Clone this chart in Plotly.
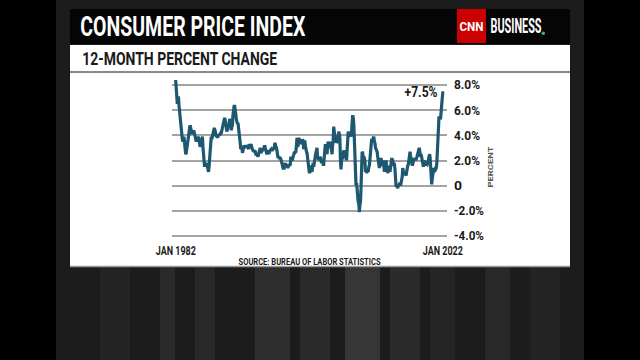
import json
import pandas as pd
import plotly.graph_objects as go

# ---- data: CPI-U, 12-month percent change, monthly Jan 1982 - Jan 2022 ----
cpi_yoy = [
    8.4, 7.6, 6.8, 6.5, 6.7, 7.1, 6.4, 5.9, 5.0, 5.1, 4.6, 3.8,   # 1982
    3.7, 3.5, 3.6, 3.9, 3.5, 2.6, 2.5, 2.6, 2.9, 2.9, 3.3, 3.8,   # 1983
    4.2, 4.6, 4.8, 4.6, 4.2, 4.2, 4.2, 4.3, 4.3, 4.3, 4.1, 3.9,   # 1984
    3.5, 3.5, 3.7, 3.7, 3.8, 3.8, 3.6, 3.3, 3.1, 3.2, 3.5, 3.8,   # 1985
    3.9, 3.1, 2.2, 1.6, 1.5, 1.8, 1.6, 1.6, 1.8, 1.5, 1.3, 1.1,   # 1986
    1.5, 2.1, 3.0, 3.8, 3.9, 3.7, 3.9, 4.3, 4.4, 4.5, 4.5, 4.4,   # 1987
    4.0, 3.9, 3.9, 3.9, 3.9, 4.0, 4.1, 4.0, 4.2, 4.2, 4.2, 4.4,   # 1988
    4.7, 4.8, 5.0, 5.1, 5.4, 5.2, 5.0, 4.7, 4.3, 4.5, 4.7, 4.6,   # 1989
    5.2, 5.3, 5.2, 4.7, 4.4, 4.7, 4.8, 5.6, 6.2, 6.3, 6.3, 6.1,   # 1990
    5.7, 5.3, 4.9, 4.9, 5.0, 4.7, 4.4, 3.8, 3.4, 2.9, 3.0, 3.1,   # 1991
    2.6, 2.8, 3.2, 3.2, 3.0, 3.1, 3.2, 3.1, 3.0, 3.2, 3.0, 2.9,   # 1992
    3.3, 3.2, 3.1, 3.2, 3.2, 3.0, 2.8, 2.8, 2.7, 2.8, 2.7, 2.7,   # 1993
    2.5, 2.5, 2.5, 2.4, 2.3, 2.5, 2.8, 2.9, 3.0, 2.6, 2.7, 2.7,   # 1994
    2.8, 2.9, 2.9, 3.1, 3.2, 3.0, 2.8, 2.6, 2.5, 2.8, 2.6, 2.5,   # 1995
    2.7, 2.7, 2.8, 2.9, 2.9, 2.8, 3.0, 2.9, 3.0, 3.0, 3.3, 3.3,   # 1996
    3.0, 3.0, 2.8, 2.5, 2.2, 2.3, 2.2, 2.2, 2.2, 2.1, 1.8, 1.7,   # 1997
    1.6, 1.4, 1.4, 1.4, 1.7, 1.7, 1.7, 1.6, 1.5, 1.5, 1.5, 1.6,   # 1998
    1.7, 1.6, 1.7, 2.3, 2.1, 2.0, 2.1, 2.3, 2.6, 2.6, 2.6, 2.7,   # 1999
    2.7, 3.2, 3.8, 3.1, 3.2, 3.7, 3.7, 3.4, 3.5, 3.4, 3.4, 3.4,   # 2000
    3.7, 3.5, 2.9, 3.3, 3.6, 3.2, 2.7, 2.7, 2.6, 2.1, 1.9, 1.6,   # 2001
    1.1, 1.1, 1.5, 1.6, 1.2, 1.1, 1.5, 1.8, 1.5, 2.0, 2.2, 2.4,   # 2002
    2.6, 3.0, 3.0, 2.2, 2.1, 2.1, 2.1, 2.2, 2.3, 2.0, 1.8, 1.9,   # 2003
    1.9, 1.7, 1.7, 2.3, 3.1, 3.3, 3.0, 2.7, 2.5, 3.2, 3.5, 3.3,   # 2004
    3.0, 3.0, 3.1, 3.5, 2.8, 2.5, 3.2, 3.6, 4.7, 4.3, 3.5, 3.4,   # 2005
    4.0, 3.6, 3.4, 3.5, 4.2, 4.3, 4.1, 3.8, 2.1, 1.3, 2.0, 2.5,   # 2006
    2.1, 2.4, 2.8, 2.6, 2.7, 2.7, 2.4, 2.0, 2.8, 3.5, 4.3, 4.1,   # 2007
    4.3, 4.0, 4.0, 3.9, 4.2, 5.0, 5.6, 5.4, 4.9, 3.7, 1.1, 0.1,   # 2008
    0.0, 0.2, -0.4, -0.7, -1.3, -1.4, -2.1, -1.5, -1.3, -0.2, 1.8, 2.7,  # 2009
    2.6, 2.1, 2.3, 2.2, 2.0, 1.1, 1.2, 1.1, 1.1, 1.2, 1.1, 1.5,   # 2010
    1.6, 2.1, 2.7, 3.2, 3.6, 3.6, 3.6, 3.8, 3.9, 3.5, 3.4, 3.0,   # 2011
    2.9, 2.9, 2.7, 2.3, 1.7, 1.7, 1.4, 1.7, 2.0, 2.2, 1.8, 1.7,   # 2012
    1.6, 2.0, 1.5, 1.1, 1.4, 1.8, 2.0, 1.5, 1.2, 1.0, 1.2, 1.5,   # 2013
    1.6, 1.1, 1.5, 2.0, 2.1, 2.1, 2.0, 1.7, 1.7, 1.7, 1.3, 0.8,   # 2014
    -0.1, 0.0, -0.1, -0.2, 0.0, 0.1, 0.2, 0.2, 0.0, 0.2, 0.5, 0.7,  # 2015
    1.4, 1.0, 0.9, 1.1, 1.0, 1.0, 0.8, 1.1, 1.5, 1.6, 1.7, 2.1,   # 2016
    2.5, 2.7, 2.4, 2.2, 1.9, 1.6, 1.7, 1.9, 2.2, 2.0, 2.2, 2.1,   # 2017
    2.1, 2.2, 2.4, 2.5, 2.8, 2.9, 2.9, 2.7, 2.3, 2.5, 2.2, 1.9,   # 2018
    1.6, 1.5, 1.9, 2.0, 1.8, 1.6, 1.8, 1.7, 1.7, 1.8, 2.1, 2.3,   # 2019
    2.5, 2.3, 1.5, 0.3, 0.1, 0.6, 1.0, 1.3, 1.4, 1.2, 1.2, 1.4,   # 2020
    1.4, 1.7, 2.6, 4.2, 5.0, 5.4, 5.4, 5.3, 5.4, 6.2, 6.8, 7.0,   # 2021
    7.5,                                                          # Jan 2022
]
months = pd.date_range("1982-01-01", periods=len(cpi_yoy), freq="MS")

y_ticks = [-4, -2, 0, 2, 4, 6, 8]
y_tick_labels = ["-4.0%", "-2.0%", "0", "2.0%", "4.0%", "6.0%", "8.0%"]

title_text = "CONSUMER PRICE INDEX"
subtitle_text = "12-MONTH PERCENT CHANGE"
source_text = "SOURCE: BUREAU OF LABOR STATISTICS"
callout_text = "+7.5%"
start_label = "JAN 1982"
end_label = "JAN 2022"

# ---- layout helpers (pixel -> paper) ----
W, H = 640, 360
def px(x):
    return x / W
def py(y):
    return 1 - y / H

FONT = "Roboto, Liberation Sans, DejaVu Sans, sans-serif"
LINE_COLOR = "#1d5870"

fig = go.Figure()
fig.add_trace(go.Scatter(
    x=months, y=cpi_yoy, mode="lines",
    line=dict(color=LINE_COLOR, width=3.2),
    hoverinfo="skip", showlegend=False,
))

shapes = []
def rect(x0, y0, x1, y1, color, layer="below", opacity=1.0):
    shapes.append(dict(type="rect", xref="paper", yref="paper",
                       x0=px(x0), x1=px(x1), y0=py(y1), y1=py(y0),
                       fillcolor=color, line=dict(width=0), layer=layer,
                       opacity=opacity))

# background: black side bars with a dark grey centre
rect(56, 0, 584, 360, "#1c1c1c")
# decorative blurry stripes in the lower background
for x0, x1, c in [(100, 130, "#242424"), (160, 175, "#2a2a2a"), (195, 215, "#282828"),
                  (255, 290, "#2e2e2e"), (300, 330, "#2a2a2a"), (345, 380, "#363636"),
                  (390, 420, "#2b2b2b"), (430, 455, "#252525"), (485, 510, "#282828"),
                  (530, 560, "#232323")]:
    rect(x0, 267, x1, 360, c)
# title banner
rect(70, 9, 570, 44, "#050505")
# white panel
rect(70, 45, 570, 266, "#ffffff")
shapes.append(dict(type="line", xref="paper", yref="paper",
                   x0=px(70), x1=px(570), y0=py(72), y1=py(72),
                   line=dict(color="#8a8a8a", width=2), layer="below"))
shapes.append(dict(type="line", xref="paper", yref="paper",
                   x0=px(70), x1=px(570), y0=py(266.5), y1=py(266.5),
                   line=dict(color="#9a9a9a", width=1.5), layer="below"))
# CNN logo box
rect(457, 9, 486, 43, "#cc0000", layer="above")
shapes.append(dict(type="circle", xref="paper", yref="paper",
                   x0=px(541.5), x1=px(545), y0=py(35), y1=py(31.5),
                   fillcolor="#1fbf6a", line=dict(width=0), layer="above"))

annotations = []
# target rendered widths (px) for the condensed look of the broadcast font
text_widths = {}
def text(cx, cy, s, size, color, width, angle=0):
    text_widths[s] = width
    annotations.append(dict(
        xref="paper", yref="paper", x=px(cx), y=py(cy), text=s, showarrow=False,
        xanchor="center", yanchor="middle", textangle=angle,
        font=dict(family=FONT, size=size, color=color, weight="bold"),
    ))

text(192.5, 27, title_text, 27, "#ffffff", 225)
text(471.5, 27, "CNN", 12, "#ffffff", 24)
text(515.5, 26, "BUSINESS", 20, "#ffffff", 51)
text(179.5, 58.5, subtitle_text, 18, "#1a1a1a", 195)
text(420.5, 91.5, callout_text, 14, "#1a1a1a", 33)
text(490, 167.5, "PERCENT", 8, "#555555", 41, angle=-90)
text(309, 261.5, source_text, 9.5, "#1a1a1a", 142)

# axis-anchored date labels
for d, s in [("1982-01-01", start_label), ("2022-01-01", end_label)]:
    text_widths[s] = 40
    annotations.append(dict(
        xref="x", yref="paper", x=d, y=py(250.5), text=s, showarrow=False,
        xanchor="center", yanchor="middle", borderpad=0,
        font=dict(family=FONT, size=12, color="#1a1a1a", weight="bold"),
    ))
for s in y_tick_labels:
    text_widths[s] = {"0": 8}.get(s, 30 if s.startswith("-") else 26)

fig.update_layout(
    width=W, height=H,
    autosize=False,
    margin=dict(l=0, r=0, t=0, b=0, pad=0, autoexpand=False),
    paper_bgcolor="#000000",
    plot_bgcolor="rgba(0,0,0,0)",
    shapes=shapes,
    annotations=annotations,
    xaxis=dict(
        domain=[px(172), px(447)],
        range=["1981-06-15", "2022-08-15"],
        showgrid=False, zeroline=False, showticklabels=False, ticks="",
        showline=False, fixedrange=True, automargin=False,
    ),
    yaxis=dict(
        domain=[py(239.75), py(78.75)],
        range=[-4.3, 8.5],
        side="right",
        tickvals=y_ticks, ticktext=y_tick_labels,
        showgrid=True, gridcolor="#a3a3a3", gridwidth=2,
        zeroline=False, showline=False, ticks="",
        ticklabelstandoff=6,
        tickfont=dict(family=FONT, size=12.5, color="#1a1a1a", weight="bold"),
        fixedrange=True, automargin=False,
    ),
    showlegend=False,
)

post_script = """
document.documentElement.style.margin = '0';
document.body.style.margin = '0';
document.body.style.overflow = 'hidden';
var gd = document.getElementById('{plot_id}');
var widths = %s;
gd.querySelectorAll('text.annotation-text, g.ytick text').forEach(function (t) {
    var w = widths[t.textContent];
    if (w !== undefined) {
        t.setAttribute('textLength', w);
        t.setAttribute('lengthAdjust', 'spacingAndGlyphs');
    }
});
""" % json.dumps(text_widths)

fig.write_html("out.html", post_script=post_script, config={"displayModeBar": False})
